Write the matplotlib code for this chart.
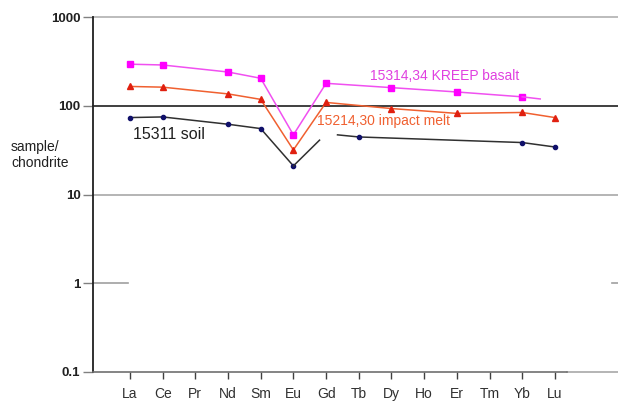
import numpy as np
import matplotlib
matplotlib.use("Agg")
import matplotlib.pyplot as plt
from matplotlib.transforms import blended_transform_factory

plt.rcParams['font.family'] = ['Liberation Sans', 'DejaVu Sans']

# Rare earth elements (chondrite-normalised REE pattern)
elements = ["La", "Ce", "Pr", "Nd", "Sm", "Eu", "Gd", "Tb", "Dy", "Ho", "Er", "Tm", "Yb", "Lu"]

# 15314,34 KREEP basalt
kreep_elems = ["La", "Ce", "Nd", "Sm", "Eu", "Gd", "Dy", "Er", "Yb"]
kreep_vals = [294, 288, 240, 204, 47, 179, 160, 143, 126]
kreep_lu = 114          # Lu, trend only (no symbol)

# 15214,30 impact melt
melt_elems = ["La", "Ce", "Nd", "Sm", "Eu", "Gd", "Dy", "Er", "Yb", "Lu"]
melt_vals = [165, 162, 136, 118, 31.8, 109, 93, 82, 84, 73.6]

# 15311 soil
soil_elems = ["La", "Ce", "Nd", "Sm", "Eu", "Gd", "Tb", "Yb", "Lu"]
soil_vals = [73.6, 74.8, 61.9, 55.3, 21.0, 48.4, 44.5, 38.5, 34.3]

yticks = [0.1, 1, 10, 100, 1000]
ytick_labels = ["0.1", "1", "10", "100", "1000"]

idx = {e: i for i, e in enumerate(elements)}

fig = plt.figure(figsize=(6.18, 4.03), dpi=100)
ax = fig.add_axes([93 / 618, 31 / 403, 474 / 618, 355 / 403])
ax.set_yscale("log")
ax.set_ylim(0.1, 1000)
ax.set_xlim(-1.13, 13.37)

# horizontal rules, continuing past the plot frame to the figure edge
bt = blended_transform_factory(fig.transFigure, ax.transData)
x0 = 93 / 618
for val, col, lw in [(1000, "#b0b0b0", 1.2), (100, "#303030", 1.3), (10, "#a8a8a8", 1.2)]:
    ax.plot([x0, 1.0], [val, val], color=col, lw=lw, transform=bt, clip_on=False, zorder=1)
ax.plot([x0, 128 / 618], [1, 1], color="#a0a0a0", lw=1.2, transform=bt, clip_on=False, zorder=1)
ax.plot([612 / 618, 1.0], [1, 1], color="#a0a0a0", lw=1.2, transform=bt, clip_on=False, zorder=1)
ax.plot([567 / 618, 1.0], [0.1, 0.1], color="#a8a8a8", lw=1.2, transform=bt, clip_on=False, zorder=1)


def interp_log(xa, ya, xb, yb, f):
    return xa + f * (xb - xa), 10 ** (np.log10(ya) + f * (np.log10(yb) - np.log10(ya)))


# KREEP basalt
kx = [idx[e] for e in kreep_elems]
ax.plot(kx, kreep_vals, color="#f050f0", lw=1.1, marker="s", ms=4.5,
        mfc="#ff00ff", mec="#ff00ff", zorder=4)
ex, ey = interp_log(kx[-1], kreep_vals[-1], idx["Lu"], kreep_lu, 0.55)
ax.plot([kx[-1], ex], [kreep_vals[-1], ey], color="#f050f0", lw=1.1, zorder=4)

# impact melt
mx = [idx[e] for e in melt_elems]
ax.plot(mx, melt_vals, color="#f06030", lw=1.1, marker="^", ms=4,
        mfc="#e02010", mec="#e02010", zorder=4)

# soil: line broken around Gd, no symbol there
sx = [idx[e] for e in soil_elems]
g = soil_elems.index("Gd")
scol = "#303030"
ax.plot(sx[:g], soil_vals[:g], color=scol, lw=1.1, marker="o", ms=3,
        mfc="#10106a", mec="#10106a", zorder=4)
ax1 = interp_log(sx[g - 1], soil_vals[g - 1], sx[g], soil_vals[g], 0.8)
ax.plot([sx[g - 1], ax1[0]], [soil_vals[g - 1], ax1[1]], color=scol, lw=1.1, zorder=4)
bx1 = interp_log(sx[g], soil_vals[g], sx[g + 1], soil_vals[g + 1], 0.35)
ax.plot([bx1[0]] + sx[g + 1:], [bx1[1]] + soil_vals[g + 1:], color=scol, lw=1.1, zorder=4)
ax.plot(sx[g + 1:], soil_vals[g + 1:], ls="none", marker="o", ms=3,
        mfc="#10106a", mec="#10106a", zorder=5)

# series labels
ax.text(1.18, 47.5, "15311 soil", color="#202020", fontsize=11.5, ha="center", va="center")
ax.text(9.64, 215, "15314,34 KREEP basalt", color="#e040e0", fontsize=10, ha="center", va="center")
ax.text(7.75, 67.5, "15214,30 impact melt", color="#f06030", fontsize=10, ha="center", va="center")

# axes styling
ax.set_xticks(range(len(elements)))
ax.set_xticklabels(elements, fontsize=10, color="#303030")
ax.set_yticks(yticks)
ax.set_yticklabels(ytick_labels, fontsize=9.5, fontweight="bold", color="#202020")
ax.yaxis.set_minor_locator(matplotlib.ticker.NullLocator())
ax.tick_params(axis="x", length=5, width=1, color="#404040", pad=6)
ax.tick_params(axis="y", length=7, width=1, color="#808080", pad=2)
for s in ["top", "right"]:
    ax.spines[s].set_visible(False)
ax.spines["left"].set_color("#202020")
ax.spines["left"].set_linewidth(1.3)
ax.spines["bottom"].set_color("#707070")
ax.spines["bottom"].set_linewidth(1.2)

fig.text(11 / 618, 1 - 147 / 403, "sample/", fontsize=10, color="#202020", va="center", ha="left")
fig.text(11 / 618, 1 - 163 / 403, "chondrite", fontsize=10, color="#202020", va="center", ha="left")

fig.savefig("out.png", dpi=100)
